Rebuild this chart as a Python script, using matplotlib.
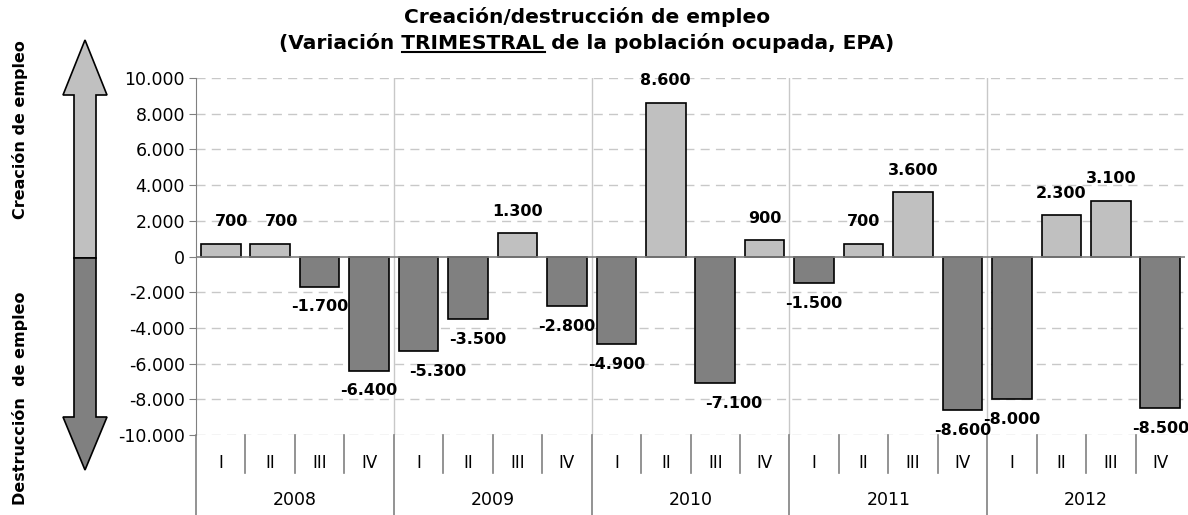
import numpy as np
import matplotlib
matplotlib.use('Agg')
import matplotlib.pyplot as plt
from matplotlib.patches import Polygon
from matplotlib.lines import Line2D

# data
years = ['2008', '2009', '2010', '2011', '2012']
quarters = ['I', 'II', 'III', 'IV']
values = [700, 700, -1700, -6400,
          -5300, -3500, 1300, -2800,
          -4900, 8600, -7100, 900,
          -1500, 700, 3600, -8600,
          -8000, 2300, 3100, -8500]
yticks = np.arange(-10000, 10001, 2000)

# horizontal nudges (points) for labels that sit off-centre in the original
label_nudge = {0: 8, 1: 8, 4: 14, 5: 7, 10: 13}

plt.rcParams['font.family'] = ['DejaVu Sans']

W, H = 1188, 515


def fx(px):
    return px / W


def fy(py):
    return 1 - py / H


def fmt(v):
    return f'{v:,.0f}'.replace(',', '.')


fig = plt.figure(figsize=(W / 100, H / 100), dpi=100)
ax = fig.add_axes([fx(196), fy(435), (1185 - 196) / W, (435 - 78) / H])

x = np.arange(len(values))
colors = ['#C0C0C0' if v >= 0 else '#808080' for v in values]
ax.bar(x, values, width=0.8, color=colors, edgecolor='black', linewidth=1.2, zorder=3)

ax.set_xlim(-0.5, len(values) - 0.5)
ax.set_ylim(-10000, 10000)
ax.set_yticks(yticks)
ax.set_yticklabels([fmt(v) for v in yticks])
ax.tick_params(axis='y', length=5, color='#808080', labelsize=12.5, pad=3)
ax.set_xticks([])

for y in yticks:
    if y != 0:
        ax.axhline(y, color='#C8C8C8', ls=(0, (6.5, 4.5)), lw=1, zorder=1)
ax.axhline(0, color='#808080', lw=1.2, zorder=4)
for k in range(1, len(years)):
    ax.axvline(4 * k - 0.5, color='#C8C8C8', lw=1, zorder=1)

for s in ['top', 'right', 'bottom']:
    ax.spines[s].set_visible(False)
ax.spines['left'].set_color('#808080')

# category axis below the plot
trans = ax.get_xaxis_transform()
for i in range(len(values)):
    if i % 4 == 0:
        ax.plot([i - 0.5, i - 0.5], [0, -0.224], transform=trans, color='#808080',
                lw=1.2, clip_on=False)
    else:
        ax.plot([i - 0.5, i - 0.5], [0, -0.107], transform=trans, color='#808080',
                lw=1.2, clip_on=False)
    ax.text(i, -0.078, quarters[i % 4], transform=trans, ha='center', va='center',
            fontsize=12)
for k, yr in enumerate(years):
    ax.text(4 * k + 1.5, -0.182, yr, transform=trans, ha='center', va='center',
            fontsize=12.5)

# value labels
for i, v in enumerate(values):
    dy = 16 if v > 0 else -14.5
    ax.annotate(fmt(v), (i, v), xytext=(label_nudge.get(i, 0), dy),
                textcoords='offset points', ha='center', va='center',
                fontweight='bold', fontsize=11.5, zorder=5)

# titles
fig.text(fx(587), fy(17), 'Creación/destrucción de empleo', ha='center', va='center',
         fontweight='bold', fontsize=14.5)
line2 = '(Variación TRIMESTRAL de la población ocupada, EPA)'
t2 = fig.text(fx(587), fy(43), line2, ha='center', va='center',
              fontweight='bold', fontsize=14.5)

# underline TRIMESTRAL
fig.canvas.draw()
r = fig.canvas.get_renderer()
bb = t2.get_window_extent(r)
tmp = fig.text(0, 0, '(Variación ', fontweight='bold', fontsize=14.5)
w_pre = tmp.get_window_extent(r).width
tmp.set_text('(Variación TRIMESTRAL')
w_end = tmp.get_window_extent(r).width
tmp.remove()
uy = bb.y0 + 1
fig.add_artist(Line2D([(bb.x0 + w_pre) / W, (bb.x0 + w_end) / W], [uy / H, uy / H],
                      transform=fig.transFigure, color='black', lw=1.5))

# double arrow on the left
up = [(85, 40), (107, 95), (96, 95), (96, 258), (74, 258), (74, 95), (63, 95)]
down = [(74, 258), (96, 258), (96, 417), (107, 417), (85, 470), (63, 417), (74, 417)]
fig.add_artist(Polygon([(fx(a), fy(b)) for a, b in up], closed=True,
                       transform=fig.transFigure, facecolor='#C0C0C0',
                       edgecolor='black', lw=1.2))
fig.add_artist(Polygon([(fx(a), fy(b)) for a, b in down], closed=True,
                       transform=fig.transFigure, facecolor='#808080',
                       edgecolor='black', lw=1.2))

fig.text(fx(20), fy(130), 'Creación de empleo', rotation=90, ha='center', va='center',
         fontweight='bold', fontsize=11.5)
fig.text(fx(20), fy(398), 'Destrucción  de empleo', rotation=90, ha='center',
         va='center', fontweight='bold', fontsize=11.5)

fig.savefig('out.png', dpi=100)
